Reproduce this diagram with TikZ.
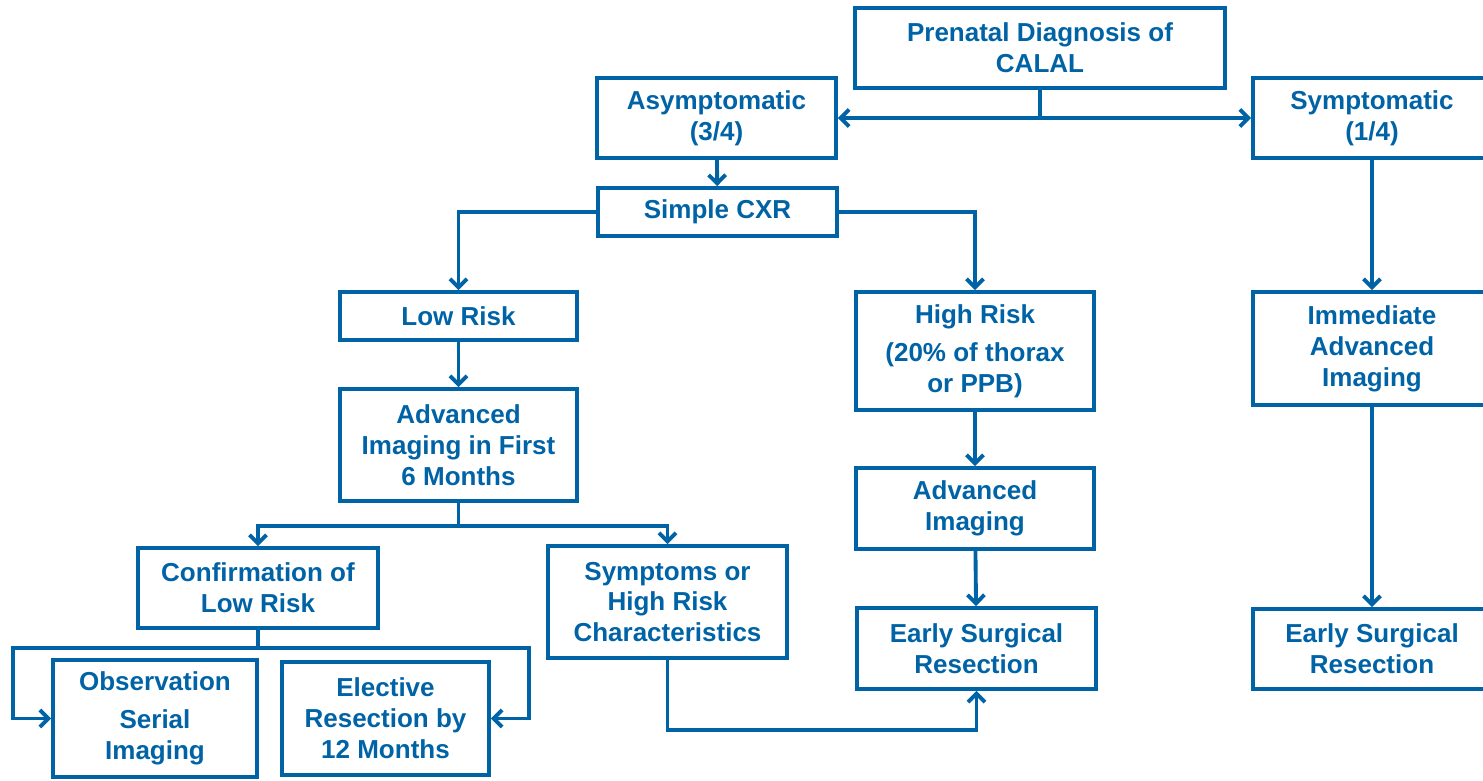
\documentclass[tikz,border=0pt]{standalone}
\usepackage{fontspec}
\setmainfont{Liberation Sans}
\usepackage{tikz}
\usetikzlibrary{arrows.meta}
\definecolor{calblue}{RGB}{0,99,166}

\begin{document}
\begin{tikzpicture}[x=0.2mm, y=-0.2mm,
    box/.style={rectangle, draw=calblue, line width=2.2pt, text=calblue, inner sep=0pt,
        align=center, font=\fontsize{14.8}{17.6}\selectfont\bfseries},
    link/.style={draw=calblue, line width=2.2pt},
    arr/.style={link, -{Straight Barb[length=1.7mm,width=3.4mm]}}]
    \useasboundingbox (0,0) rectangle (1483,780);
    \node[box, minimum width=7.4cm, minimum height=1.6cm] (prenatal) at (1040, 48) {Prenatal Diagnosis of\\CALAL};
    \node[box, minimum width=4.78cm, minimum height=1.6cm] (asym) at (716.5, 118) {Asymptomatic\\(3/4)};
    \node[box, minimum width=4.76cm, minimum height=1.6cm] (sympt) at (1372, 118) {Symptomatic\\(1/4)};
    \node[box, minimum width=4.78cm, minimum height=0.96cm] (cxr) at (717.5, 212) {Simple CXR};
    \node[box, minimum width=4.74cm, minimum height=0.96cm] (low) at (458.5, 316) {Low Risk};
    \node[box, minimum width=4.74cm, minimum height=2.24cm] (advfirst) at (458.5, 445) {Advanced\\Imaging in First\\6 Months};
    \node[box, minimum width=4.76cm, minimum height=2.36cm] (high) at (975, 351) {High Risk\\[4pt](20\% of thorax\\or PPB)};
    \node[box, minimum width=4.76cm, minimum height=1.62cm] (advmid) at (975, 508.5) {Advanced\\Imaging};
    \node[box, minimum width=4.78cm, minimum height=1.62cm] (earlymid) at (976.5, 648.5) {Early Surgical\\Resection};
    \node[box, minimum width=4.76cm, minimum height=2.26cm] (immed) at (1372, 348.5) {Immediate\\Advanced\\Imaging};
    \node[box, minimum width=4.76cm, minimum height=1.6cm] (earlyright) at (1372, 649) {Early Surgical\\Resection};
    \node[box, minimum width=4.8cm, minimum height=1.6cm] (confirm) at (258, 588) {Confirmation of\\Low Risk};
    \node[box, minimum width=4.78cm, minimum height=2.24cm] (sympchar) at (667.5, 602) {Symptoms or\\High Risk\\Characteristics};
    \node[box, minimum width=4.08cm, minimum height=2.34cm] (observ) at (155, 718.5) {Observation\\[4pt]Serial\\Imaging};
    \node[box, minimum width=4.14cm, minimum height=2.26cm] (elect) at (385.5, 718.5) {Elective\\Resection by\\12 Months};
    % top split
    \draw[link] (prenatal.south) -- (prenatal.south |- asym.east) coordinate (split);
    \draw[arr] (split) -- (asym.east);
    \draw[arr] (split) -- (split -| sympt.west);
    \draw[arr] (asym) -- (cxr);
    \draw[arr] (cxr.west) -| (low.north);
    \draw[arr] (cxr.east) -| (high.north);
    \draw[arr] (sympt) -- (immed);
    % low risk branch
    \draw[arr] (low) -- (advfirst);
    \draw[link] (advfirst.south) -- ++(0,23) coordinate (fork);
    \draw[arr] (fork) -| (confirm.north);
    \draw[arr] (fork) -| (sympchar.north);
    \draw[link] (confirm.south) -- ++(0,18) coordinate (obsfork);
    \draw[arr] (obsfork) -| ([xshift=-7.6mm]observ.west) -- (observ.west);
    \draw[arr] (obsfork) -| ([xshift=7.6mm]elect.east) -- (elect.east);
    \draw[arr] (sympchar.south) -- ++(0,70) -| (earlymid.south);
    % high risk branch
    \draw[arr] (high) -- (advmid);
    \draw[arr] (advmid) -- (earlymid);
    \draw[arr] (immed) -- (earlyright);
\end{tikzpicture}
\end{document}
